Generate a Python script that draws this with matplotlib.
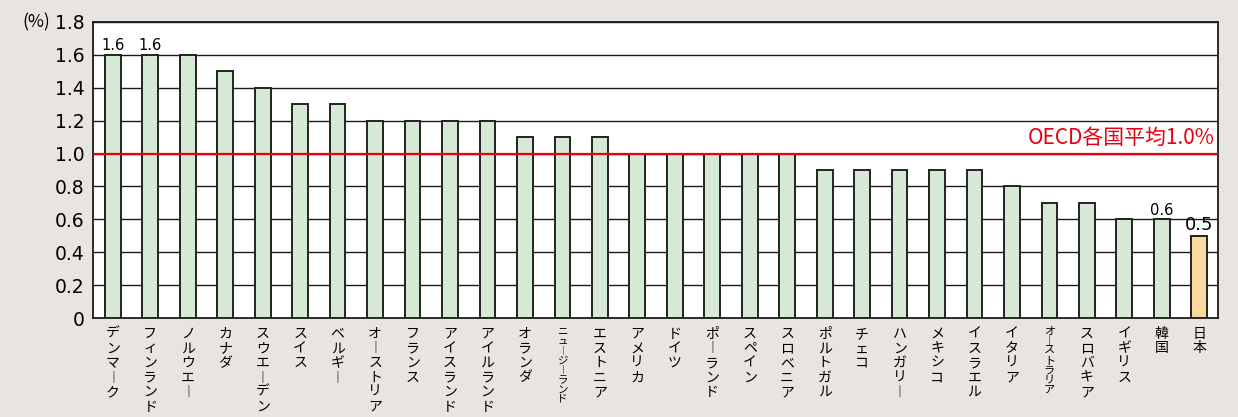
import numpy as np
import matplotlib
matplotlib.use('Agg')
import matplotlib.pyplot as plt
import matplotlib.transforms as mtransforms

plt.rcParams['font.family'] = ['Noto Sans CJK JP', 'DejaVu Sans']

countries = ['デンマーク', 'フィンランド', 'ノルウエー', 'カナダ', 'スウエーデン', 'スイス',
             'ベルギー', 'オーストリア', 'フランス', 'アイスランド', 'アイルランド', 'オランダ',
             'ニュージーランド', 'エストニア', 'アメリカ', 'ドイツ', 'ポーランド', 'スペイン',
             'スロベニア', 'ポルトガル', 'チェコ', 'ハンガリー', 'メキシコ', 'イスラエル',
             'イタリア', 'オーストラリア', 'スロバキア', 'イギリス', '韓国', '日本']
values = [1.6, 1.6, 1.6, 1.5, 1.4, 1.3, 1.3, 1.2, 1.2, 1.2, 1.2, 1.1, 1.1, 1.1,
          1.0, 1.0, 1.0, 1.0, 1.0, 0.9, 0.9, 0.9, 0.9, 0.9, 0.8, 0.7, 0.7, 0.6, 0.6, 0.5]
yticks = [0, 0.2, 0.4, 0.6, 0.8, 1.0, 1.2, 1.4, 1.6, 1.8]
ytick_labels = ['0', '0.2', '0.4', '0.6', '0.8', '1.0', '1.2', '1.4', '1.6', '1.8']
oecd_avg = 1.0
shown_values = {0: '1.6', 1: '1.6', 28: '0.6'}

bg = '#e8e4e2'
fig = plt.figure(figsize=(12.38, 4.17), dpi=100, facecolor=bg)
ax = fig.add_axes([93 / 1238, 1 - 318 / 417, (1218 - 93) / 1238, (318 - 22) / 417])
ax.set_facecolor('white')

x = np.arange(len(countries))
colors = ['#d6e9d5'] * (len(countries) - 1) + ['#fad9a1']
ax.bar(x, values, width=0.42, color=colors, edgecolor='#222222', linewidth=1.4, zorder=3)

ax.set_ylim(0, 1.8)
ax.set_xlim(-0.53, len(countries) - 0.5)
ax.set_yticks(yticks)
ax.set_yticklabels(ytick_labels, fontsize=13.5, family='DejaVu Sans')
ax.set_xticks([])
ax.tick_params(axis='y', length=0, pad=6)
for y in yticks[1:]:
    ax.axhline(y, color='#1a1a1a', linewidth=1, zorder=1)
for s in ax.spines.values():
    s.set_color('#1a1a1a')
    s.set_linewidth(1.3)

# OECD average
ax.axhline(oecd_avg, color='#e60012', linewidth=1.6, zorder=4)
ax.text(len(countries) - 0.6, oecd_avg + 0.025, 'OECD各国平均1.0%', color='#e60012',
        fontsize=15, ha='right', va='bottom', zorder=5)

# value labels
for i, t in shown_values.items():
    ax.text(i, values[i] + 0.01, t, fontsize=10.5, ha='center', va='bottom', family='DejaVu Sans')
ax.text(len(countries) - 1, values[-1] + 0.01, '0.5', fontsize=13, ha='center', va='bottom',
        family='DejaVu Sans')

ax.text(-0.038, 1.0, '(%)', transform=ax.transAxes, fontsize=12.5, ha='right', va='center')

# vertical country names
trans = mtransforms.blended_transform_factory(ax.transData, ax.transAxes)
small = {12: 7.5, 25: 8}
for i, name in enumerate(countries):
    chars = name.replace('ー', '︱')
    fs = small.get(i, 10)
    ax.text(i, -0.03, '\n'.join(chars), transform=trans, fontsize=fs, ha='center', va='top',
            linespacing=1.05 if fs == 10 else 0.95)

fig.savefig('out.png', dpi=100, facecolor=bg)
